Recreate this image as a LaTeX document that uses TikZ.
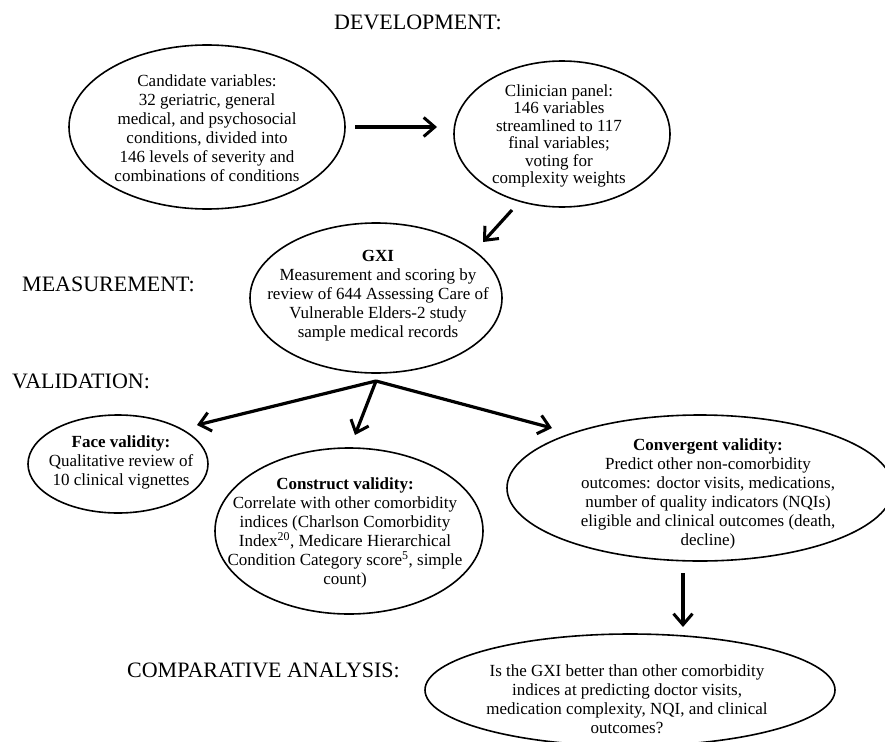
\documentclass[tikz,border=0pt]{standalone}
\usepackage{fontspec}
\setmainfont{Liberation Serif}
\usetikzlibrary{shapes.geometric,arrows.meta}
\begin{document}
\begin{tikzpicture}[x=1pt,y=-1pt,
  oval/.style={draw, ellipse, line width=1.6pt, inner sep=0pt},
  body/.style={align=center, inner sep=0pt, font=\fontsize{17}{19}\selectfont},
  tightbody/.style={align=center, inner sep=0pt, font=\fontsize{17}{17.5}\selectfont},
  heading/.style={inner sep=0pt, font=\fontsize{22}{24}\selectfont},
  flow/.style={line width=3.2pt, -{Straight Barb[length=11pt, width=19pt, line width=3pt]}}
]
\useasboundingbox (0,0) rectangle (885,741);
\clip (0,0) rectangle (885,741);

% headings
\node[heading] (hdev) at (418,22) {DEVELOPMENT:};
\node[heading, anchor=west] (hmeas) at (22,284) {MEASUREMENT:};
\node[heading, anchor=west] (hval) at (12,381) {VALIDATION:};
\node[heading, anchor=east] (hcomp) at (400,670) {COMPARATIVE ANALYSIS:};

% ellipses
\node[oval, minimum width=276pt, minimum height=164pt] (cand) at (207,127) {};
\node[oval, minimum width=216pt, minimum height=146pt] (clin) at (562,134) {};
\node[oval, minimum width=252pt, minimum height=150pt] (gxi) at (376,298) {};
\node[oval, minimum width=180pt, minimum height=98pt] (face) at (118,464) {};
\node[oval, minimum width=268pt, minimum height=166pt] (cons) at (349,531) {};
\node[oval, minimum width=386pt, minimum height=146pt] (conv) at (700,488) {};
\node[oval, minimum width=410pt, minimum height=112pt] (comp) at (630,690) {};

% texts
\node[body] (candT) at (207,128) {Candidate variables:\\32 geriatric, general\\medical, and psychosocial\\conditions, divided into\\146 levels of severity and\\combinations of conditions};
\node[tightbody] (clinT) at (559,136) {Clinician panel:\\146 variables\\streamlined to 117\\final variables;\\voting for\\complexity weights};
\node[body] (gxiT) at (378,296) {\textbf{GXI}\\Measurement and scoring by\\review of 644 Assessing Care of\\Vulnerable Elders-2 study\\sample medical records};
\node[body] (faceT) at (121,462) {\textbf{Face validity:}\\Qualitative review of\\10 clinical vignettes};
\node[body] (consT) at (345,533) {\textbf{Construct validity:}\\Correlate with other comorbidity\\indices (Charlson Comorbidity\\Index\textsuperscript{20}, Medicare Hierarchical\\Condition Category score\textsuperscript{5}, simple\\count)};
\node[body] (convT) at (708,494) {\textbf{Convergent validity:}\\Predict other non-comorbidity\\outcomes: doctor visits, medications,\\number of quality indicators (NQIs)\\eligible and clinical outcomes (death,\\decline)};
\node[body] (compT) at (627,699) {Is the GXI better than other comorbidity\\indices at predicting doctor visits,\\medication complexity, NQI, and clinical\\outcomes?};

% connector end points
\coordinate (a1s) at (355,127);
\coordinate (a1e) at (437,127);
\coordinate (a2s) at (512,210);
\coordinate (a2e) at (483,242);
\coordinate (root) at (376,381);
\coordinate (faceE) at (197,425);
\coordinate (consE) at (355,435);
\coordinate (convE) at (552,428);
\coordinate (dS) at (683,573);
\coordinate (dE) at (683,627);

\draw[flow] (a1s) -- (a1e);
\draw[flow] (a2s) -- (a2e);
\draw[flow] (root) -- (faceE);
\draw[flow] (root) -- (consE);
\draw[flow] (root) -- (convE);
\draw[flow] (dS) -- (dE);
\end{tikzpicture}
\end{document}
